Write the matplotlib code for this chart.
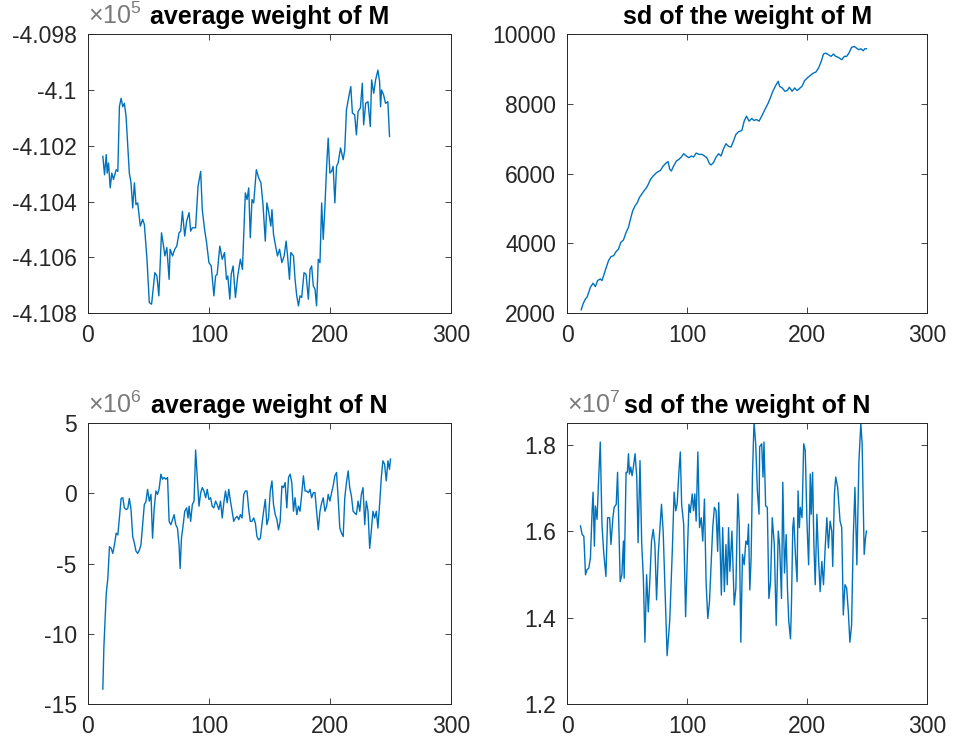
import matplotlib
matplotlib.use("Agg")
import matplotlib.pyplot as plt

plt.rcParams['font.family'] = ['Liberation Sans', 'DejaVu Sans']
plt.rcParams['mathtext.fontset'] = 'custom'
plt.rcParams['mathtext.rm'] = 'Liberation Sans'
plt.rcParams['axes.unicode_minus'] = False

# average weight of M (units of 1e5)
xm_avg = [12.3, 13.7, 15.1, 15.9, 17.0, 18.4, 19.7, 21.1, 23.3, 24.7, 26.0, 27.4, 28.8, 30.1, 31.5,
          34.2, 35.6, 37.0, 38.4, 39.7, 41.1, 43.3, 45.2, 46.6, 48.8, 50.7, 52.6, 54.2, 55.3, 57.0,
          58.6, 60.8, 62.5, 63.6, 65.2, 67.1, 67.9, 69.9, 71.8, 73.4, 75.3, 76.7, 78.1, 80.0, 81.6,
          83.6, 84.9, 86.3, 89.0, 91.0, 93.2, 94.5, 96.4, 98.1, 100.0, 101.9, 104.1, 105.5, 106.8,
          109.0, 111.0, 112.9, 114.5, 115.6, 117.3, 118.4, 120.0, 121.9, 123.8, 126.0, 127.7, 130.1,
          131.5, 132.9, 134.2, 135.6, 137.0, 139.2, 141.1, 143.0, 144.7, 146.6, 147.9, 149.3, 151.2,
          152.1, 153.4, 155.6, 156.7, 158.4, 160.3, 162.2, 163.8, 164.9, 166.6, 167.7, 169.9, 171.2,
          172.6, 174.0, 175.3, 176.7, 178.6, 180.3, 182.2, 183.6, 184.9, 186.3, 187.7, 189.0, 190.4,
          191.8, 193.2, 194.5, 195.9, 197.3, 198.6, 200.0, 201.4, 202.7, 204.1, 205.5, 206.8, 208.8,
          211.0, 212.3, 213.7, 215.9, 217.3, 218.6, 220.5, 221.9, 223.3, 225.2, 226.8, 227.9, 229.6,
          231.5, 233.4, 234.5, 236.2, 237.8, 239.7, 241.1, 241.9, 242.7, 244.4, 246.0, 247.9, 249.3]
ym_avg = [-4.10238, -4.10304, -4.10232, -4.10298, -4.10262, -4.10351, -4.10298, -4.10321, -4.10286,
          -4.10292, -4.10060, -4.10030, -4.10060, -4.10048, -4.10095, -4.10298, -4.10333, -4.10423,
          -4.10333, -4.10411, -4.10405, -4.10488, -4.10464, -4.10482, -4.10607, -4.10762, -4.10768,
          -4.10702, -4.10655, -4.10667, -4.10738, -4.10512, -4.10560, -4.10595, -4.10565, -4.10679,
          -4.10571, -4.10595, -4.10571, -4.10560, -4.10512, -4.10506, -4.10435, -4.10524, -4.10470,
          -4.10440, -4.10506, -4.10494, -4.10494, -4.10345, -4.10292, -4.10429, -4.10500, -4.10548,
          -4.10619, -4.10631, -4.10738, -4.10667, -4.10661, -4.10560, -4.10607, -4.10583, -4.10679,
          -4.10667, -4.10750, -4.10661, -4.10631, -4.10744, -4.10667, -4.10607, -4.10643, -4.10369,
          -4.10393, -4.10351, -4.10530, -4.10393, -4.10405, -4.10286, -4.10315, -4.10333, -4.10411,
          -4.10542, -4.10405, -4.10435, -4.10488, -4.10429, -4.10518, -4.10571, -4.10595, -4.10571,
          -4.10619, -4.10595, -4.10542, -4.10589, -4.10679, -4.10583, -4.10595, -4.10679, -4.10738,
          -4.10774, -4.10738, -4.10744, -4.10655, -4.10661, -4.10750, -4.10643, -4.10631, -4.10702,
          -4.10714, -4.10774, -4.10607, -4.10619, -4.10405, -4.10536, -4.10417, -4.10274, -4.10173,
          -4.10298, -4.10292, -4.10274, -4.10405, -4.10274, -4.10262, -4.10208, -4.10250, -4.10214,
          -4.10071, -4.10018, -4.09988, -4.10083, -4.10089, -4.10161, -4.10077, -4.10065, -4.09976,
          -4.10125, -4.10048, -4.10042, -4.10131, -4.09964, -4.10012, -4.09964, -4.09929, -4.09970,
          -4.10060, -4.10000, -4.10018, -4.10048, -4.10042, -4.10167]

# sd of the weight of M
xm_sd = [11.6, 13.2, 15.2, 16.5, 19.3, 21.5, 23.4, 25.3, 27.5, 28.9, 30.3, 32.5, 34.4, 36.4, 38.6,
         40.8, 42.7, 44.6, 46.8, 49.0, 51.0, 52.3, 54.5, 56.5, 58.4, 60.1, 62.0, 63.9, 66.1, 67.5,
         69.4, 71.6, 74.4, 77.7, 79.9, 82.6, 84.0, 85.4, 86.8, 88.2, 90.9, 93.1, 95.0, 97.0, 99.2,
         101.4, 103.3, 105.2, 107.4, 109.6, 112.4, 114.3, 116.3, 118.5, 119.8, 121.8, 124.0, 126.2,
         128.1, 130.0, 132.2, 134.4, 136.4, 138.3, 140.5, 142.7, 145.5, 147.4, 149.3, 151.5, 153.7,
         155.6, 157.6, 159.8, 162.0, 164.7, 167.5, 169.4, 171.3, 173.6, 175.8, 176.9, 179.1, 181.3,
         183.2, 185.1, 187.3, 189.5, 191.5, 193.4, 195.6, 197.8, 200.6, 203.3, 205.2, 207.2, 209.4,
         211.6, 213.5, 215.4, 217.6, 219.8, 221.8, 223.7, 225.9, 228.7, 230.9, 232.8, 234.7, 236.9,
         239.1, 241.0, 243.0, 244.6, 246.6, 247.9, 249.3]
ym_sd = [2095, 2267, 2410, 2457, 2743, 2857, 2762, 2933, 2981, 2933, 3076, 3314, 3505, 3619, 3648,
         3771, 3838, 4028, 4095, 4314, 4457, 4648, 4933, 5076, 5171, 5314, 5410, 5505, 5600, 5695,
         5838, 5933, 6029, 6095, 6219, 6314, 6343, 6124, 6076, 6190, 6362, 6410, 6476, 6571, 6505,
         6457, 6505, 6476, 6590, 6552, 6552, 6505, 6457, 6286, 6248, 6314, 6476, 6571, 6505, 6695,
         6857, 6781, 6762, 6914, 7124, 7200, 7238, 7505, 7648, 7505, 7581, 7524, 7552, 7505, 7648,
         7838, 8029, 8190, 8362, 8524, 8648, 8505, 8457, 8362, 8381, 8476, 8362, 8457, 8381, 8438,
         8505, 8667, 8762, 8838, 8886, 8914, 9029, 9219, 9429, 9457, 9410, 9362, 9429, 9362, 9333,
         9267, 9362, 9362, 9457, 9619, 9648, 9600, 9552, 9581, 9524, 9581, 9581]

# average weight of N (units of 1e6)
xn_avg = [12.3, 13.2, 14.2, 15.1, 16.4, 17.8, 19.2, 20.5, 21.9, 23.3, 24.7, 26.0, 27.4, 28.8, 30.1,
          31.5, 32.9, 34.2, 35.6, 37.0, 38.4, 39.7, 41.1, 42.5, 43.8, 45.2, 46.6, 47.9, 49.3, 50.7,
          52.1, 53.4, 54.8, 56.2, 57.5, 58.9, 60.3, 61.6, 63.0, 64.4, 65.8, 67.1, 68.5, 69.9, 71.2,
          72.6, 74.0, 75.3, 76.2, 77.3, 78.9, 80.0, 81.6, 82.7, 83.6, 84.9, 86.3, 87.7, 89.0, 90.4,
          91.8, 93.2, 94.5, 95.9, 97.3, 98.6, 100.0, 101.4, 102.7, 104.1, 105.5, 106.8, 108.2, 109.6,
          111.0, 112.3, 113.7, 115.1, 116.4, 117.8, 119.2, 120.5, 121.9, 123.3, 124.7, 126.0, 127.4,
          128.8, 130.1, 131.5, 132.9, 134.2, 135.6, 137.0, 138.4, 139.7, 141.1, 142.5, 143.8, 145.2,
          146.6, 147.9, 149.3, 150.7, 152.1, 153.4, 154.8, 156.2, 157.5, 158.9, 160.3, 161.6, 163.0,
          164.4, 165.8, 167.1, 168.5, 169.9, 171.2, 172.6, 174.0, 175.3, 176.7, 178.1, 179.5, 180.8,
          182.2, 183.6, 184.9, 186.3, 187.7, 189.0, 190.4, 191.8, 193.2, 194.5, 195.9, 197.3, 198.6,
          200.0, 201.4, 202.7, 204.1, 205.5, 206.8, 208.2, 209.6, 211.0, 212.3, 213.7, 215.1, 216.4,
          217.8, 219.2, 220.5, 221.9, 223.3, 224.7, 226.0, 227.4, 228.8, 230.1, 231.5, 232.9, 234.2,
          235.6, 237.0, 238.4, 239.7, 241.1, 242.5, 243.8, 245.2, 246.6, 248.0, 249.3, 250.1]
yn_avg = [-13.94, -10.87, -8.96, -7.16, -6.08, -3.80, -3.92, -4.28, -3.68, -2.84, -2.96, -1.76,
          -0.37, -0.32, -1.04, -1.16, -1.09, -0.37, -1.16, -3.08, -3.56, -4.11, -4.28, -4.04, -3.68,
          -2.24, -0.80, -0.61, 0.28, -0.56, -0.08, -3.20, -1.04, 0.16, -0.08, 0.35, 1.36, 1.00, 1.12,
          1.00, 1.12, -2.00, -2.24, -1.88, -1.52, -2.24, -2.48, -3.68, -5.36, -3.20, -2.12, -1.28,
          -1.04, -1.76, -0.92, -2.00, -0.80, -0.56, 3.08, 1.12, -0.92, 0.04, 0.40, 0.16, -0.32, 0.28,
          -0.44, -0.32, -0.92, -1.04, -0.56, -0.80, -1.16, -0.56, -1.76, -0.68, 0.16, -0.68, 0.28,
          -0.56, -1.28, -2.00, -1.76, -1.64, -1.88, -1.52, -1.76, -0.08, 0.16, 0.16, -1.16, -2.00,
          -2.00, -1.76, -2.12, -3.08, -3.32, -3.20, -2.24, -1.28, -0.44, -2.24, -1.76, 0.16, 0.88,
          -0.80, -1.52, -1.88, -2.60, -2.00, 0.52, 0.40, 0.76, -1.04, 1.12, 1.36, 0.76, -1.28, -0.32,
          -1.52, -0.92, -1.28, -0.08, 1.24, 0.16, 0.16, 0.04, 0.28, -0.32, 0.04, 0.04, -1.28, -2.60,
          -1.28, -0.68, -0.32, -1.28, -0.92, -0.08, -0.56, 0.04, 0.52, 1.24, 1.48, -0.32, -2.48,
          -2.84, -3.08, -0.32, 0.76, 1.59, 0.40, -0.20, -1.28, -1.40, -1.52, -0.56, -1.28, -0.08,
          0.40, -2.24, -0.56, -1.28, -3.92, -2.72, -1.28, -1.76, -1.28, -2.48, -0.80, 1.12, 2.31,
          2.07, 0.88, 2.31, 1.71, 2.43]

# sd of the weight of N (units of 1e7)
xn_sd = [11.0, 12.4, 13.8, 15.2, 16.5, 17.9, 19.3, 20.7, 21.5, 22.6, 23.4, 24.8, 26.2, 27.5, 28.9,
         30.3, 32.2, 33.6, 35.3, 36.4, 38.0, 39.1, 40.8, 41.9, 43.0, 44.1, 45.5, 46.8, 47.4, 49.0,
         50.1, 51.0, 51.8, 52.9, 54.0, 55.1, 56.5, 57.9, 59.0, 60.6, 62.0, 63.4, 64.7, 66.1, 67.5,
         68.9, 70.2, 71.6, 73.0, 74.4, 75.8, 78.5, 79.9, 81.3, 83.2, 85.4, 87.6, 89.0, 90.4, 91.5,
         93.1, 94.2, 95.3, 97.0, 98.6, 100.3, 101.4, 102.5, 104.1, 105.2, 106.3, 107.4, 108.8,
         110.2, 111.6, 112.9, 114.3, 115.7, 117.1, 118.5, 119.8, 121.2, 122.6, 124.0, 125.3, 126.2,
         127.3, 128.4, 129.5, 130.9, 132.2, 133.3, 134.4, 135.5, 137.2, 139.1, 140.5, 142.1, 143.3,
         144.6, 146.0, 147.4, 148.8, 150.1, 151.0, 152.1, 153.2, 154.3, 155.6, 157.0, 158.4, 159.8,
         160.3, 162.0, 163.1, 163.9, 165.3, 166.7, 168.0, 169.4, 170.8, 172.5, 174.1, 175.8, 176.9,
         178.5, 179.6, 181.0, 182.4, 183.5, 184.6, 186.0, 186.8, 187.9, 188.7, 190.1, 191.5, 192.3,
         193.4, 194.2, 195.6, 197.0, 198.3, 199.7, 201.1, 202.5, 203.3, 204.4, 205.5, 206.6, 208.0,
         209.4, 210.7, 212.1, 213.5, 214.9, 216.3, 217.6, 219.0, 220.4, 221.2, 222.6, 223.7, 225.3,
         227.3, 228.7, 230.0, 231.4, 232.8, 234.2, 235.5, 236.9, 238.3, 239.7, 240.5, 241.3, 243.0,
         244.6, 245.7, 247.4, 248.5, 249.3]
yn_sd = [1.612, 1.592, 1.588, 1.499, 1.511, 1.514, 1.538, 1.647, 1.690, 1.565, 1.658, 1.627, 1.725,
         1.806, 1.616, 1.553, 1.495, 1.631, 1.631, 1.569, 1.631, 1.655, 1.662, 1.736, 1.612, 1.483,
         1.499, 1.577, 1.491, 1.736, 1.736, 1.779, 1.732, 1.748, 1.728, 1.748, 1.779, 1.725, 1.573,
         1.763, 1.573, 1.491, 1.343, 1.499, 1.413, 1.491, 1.577, 1.604, 1.569, 1.441, 1.546, 1.662,
         1.600, 1.476, 1.312, 1.394, 1.561, 1.690, 1.647, 1.662, 1.740, 1.783, 1.662, 1.616, 1.402,
         1.569, 1.662, 1.643, 1.686, 1.647, 1.686, 1.623, 1.783, 1.608, 1.631, 1.577, 1.674, 1.479,
         1.398, 1.437, 1.518, 1.608, 1.655, 1.647, 1.553, 1.666, 1.569, 1.452, 1.608, 1.460, 1.569,
         1.476, 1.608, 1.507, 1.600, 1.429, 1.468, 1.686, 1.616, 1.343, 1.546, 1.522, 1.577, 1.569,
         1.616, 1.464, 1.538, 1.728, 1.853, 1.802, 1.693, 1.639, 1.795, 1.802, 1.725, 1.806, 1.658,
         1.655, 1.444, 1.483, 1.631, 1.569, 1.382, 1.600, 1.569, 1.444, 1.713, 1.503, 1.592, 1.464,
         1.390, 1.351, 1.429, 1.608, 1.631, 1.546, 1.483, 1.693, 1.608, 1.655, 1.631, 1.802, 1.787,
         1.623, 1.522, 1.732, 1.639, 1.736, 1.569, 1.476, 1.639, 1.534, 1.460, 1.530, 1.476, 1.561,
         1.631, 1.561, 1.623, 1.600, 1.518, 1.686, 1.725, 1.701, 1.623, 1.608, 1.406, 1.476, 1.468,
         1.413, 1.343, 1.382, 1.584, 1.701, 1.608, 1.522, 1.760, 1.849, 1.802, 1.546, 1.584, 1.600]

xticks = [0, 100, 200, 300]
panels = [
    (xm_avg, ym_avg, 'average weight of M', '5', (-4.108, -4.098),
     [-4.108, -4.106, -4.104, -4.102, -4.1, -4.098],
     ['-4.108', '-4.106', '-4.104', '-4.102', '-4.1', '-4.098']),
    (xm_sd, ym_sd, 'sd of the weight of M', None, (2000, 10000),
     [2000, 4000, 6000, 8000, 10000], ['2000', '4000', '6000', '8000', '10000']),
    (xn_avg, yn_avg, 'average weight of N', '6', (-15, 5),
     [-15, -10, -5, 0, 5], ['-15', '-10', '-5', '0', '5']),
    (xn_sd, yn_sd, 'sd of the weight of N', '7', (1.2, 1.85),
     [1.2, 1.4, 1.6, 1.8], ['1.2', '1.4', '1.6', '1.8']),
]
rects = [[0.0921, 0.578, 0.380, 0.376], [0.594, 0.578, 0.377, 0.376],
         [0.0921, 0.0512, 0.380, 0.3787], [0.594, 0.0512, 0.377, 0.3787]]

fig = plt.figure(figsize=(9.55, 7.42), dpi=100)
for rect, (x, y, title, expo, ylim, yt, ytl) in zip(rects, panels):
    ax = fig.add_axes(rect)
    ax.plot(x, y, color='#0072BD', lw=1.0)
    ax.set_xlim(0, 300)
    ax.set_ylim(*ylim)
    ax.set_xticks(xticks)
    ax.set_yticks(yt)
    ax.set_yticklabels(ytl)
    ax.tick_params(direction='in', top=True, right=True, length=4, width=0.6,
                   labelsize=16.5, colors='#262626', pad=8)
    for s in ax.spines.values():
        s.set_color('#262626')
        s.set_linewidth(0.7)
    ax.set_title(title, fontsize=18, fontweight='bold', pad=7)
    if expo:
        # exponent label drawn by hand, MATLAB style
        ax.annotate(r'$\times10^{%s}$' % expo, xy=(0, 1), xycoords='axes fraction',
                    xytext=(0, 7), textcoords='offset points', va='baseline', ha='left',
                    fontsize=18, color='#7a7a7a')

fig.savefig('out.png', dpi=100)
